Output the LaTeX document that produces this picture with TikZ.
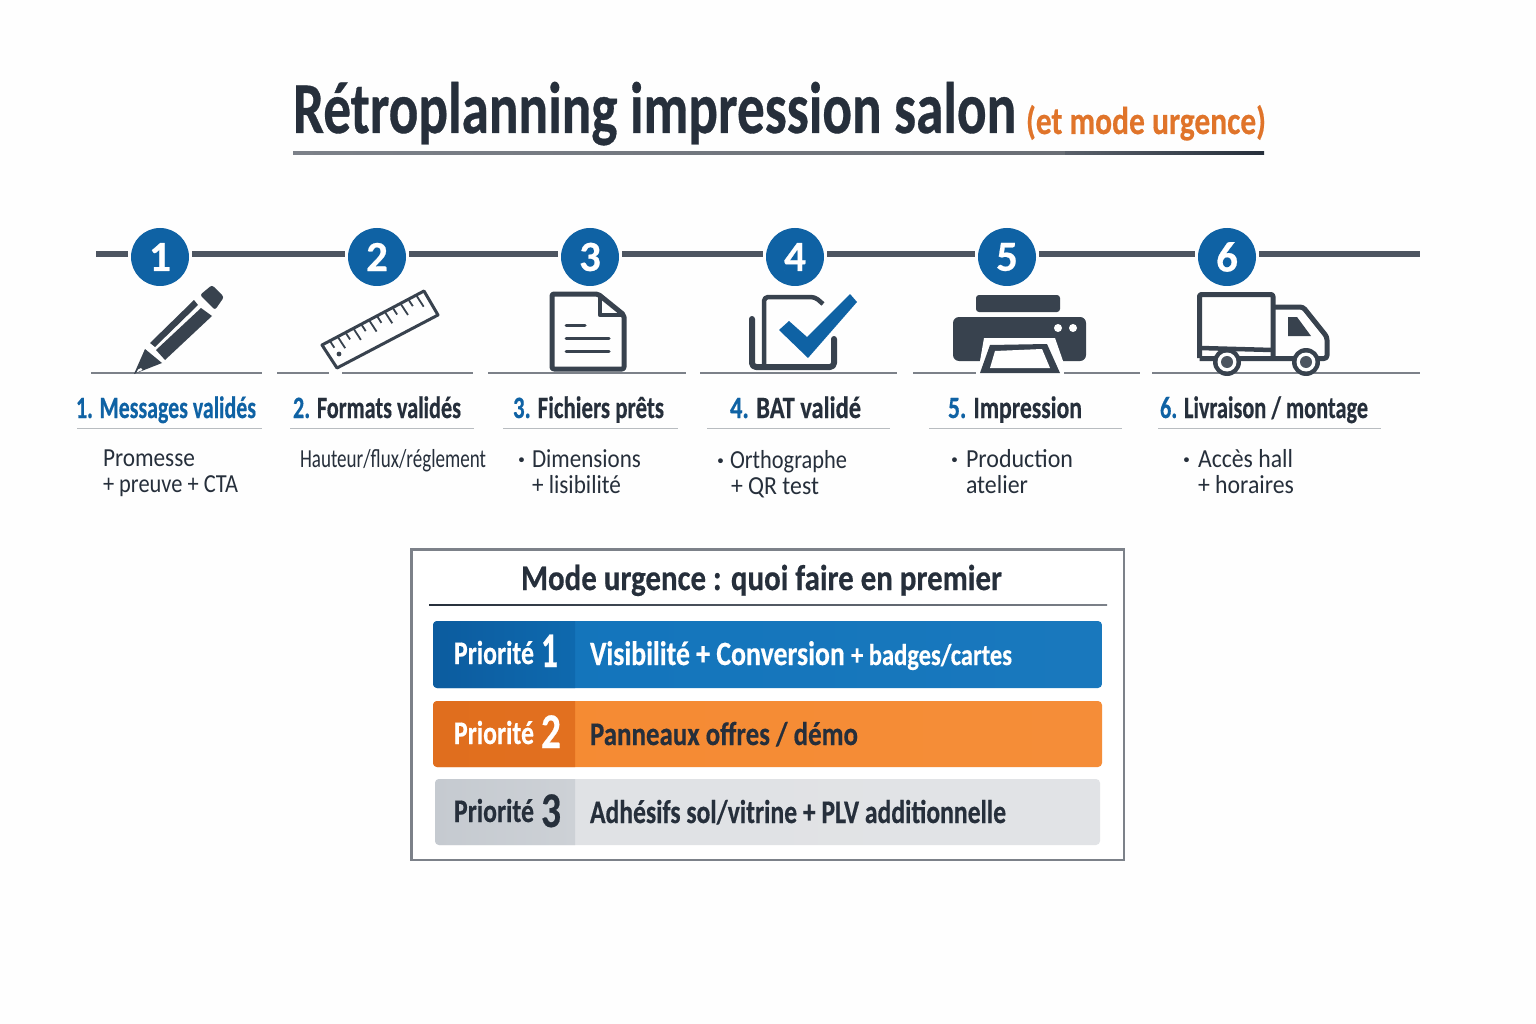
\documentclass[tikz,border=0pt]{standalone}
\usepackage{fontspec}
\usepackage{graphicx}
\usetikzlibrary{calc}
\setmainfont{Carlito}
\newfontfamily\hvy{Carlito}[BoldFeatures={FakeBold=0.5}]
\definecolor{ink}{HTML}{262F3B}
\definecolor{icon}{HTML}{38424E}
\definecolor{tl}{HTML}{4D5561}
\definecolor{blu}{HTML}{0F62A4}
\definecolor{org}{HTML}{E0742A}
\definecolor{grd}{HTML}{7C8189}
\definecolor{hln}{HTML}{B8BCC0}
\definecolor{ba}{HTML}{0C5C9F}\definecolor{bb}{HTML}{0E69AE}\definecolor{bc}{HTML}{1274BB}
\definecolor{oa}{HTML}{E06E1E}\definecolor{ob}{HTML}{E2701F}\definecolor{oc}{HTML}{F58A32}
\definecolor{ga}{HTML}{C5CAD0}\definecolor{gb}{HTML}{CDD1D6}\definecolor{gc}{HTML}{E0E2E5}
\newcommand\fitx[2]{\resizebox{#1pt}{\height}{#2}}
\newcommand\fs[1]{\fontsize{#1}{#1}\selectfont}
\newcommand\pribar[7]{%
  \shade[left color=#7,right color=#7!97!white,rounded corners=4pt] (#1,#3) rectangle (#2,#4);
  \begin{scope}
    \clip[rounded corners=4pt] (#1,#3) rectangle (#2,#4);
    \shade[left color=#5,right color=#6] (#1,#3) rectangle (575,#4);
  \end{scope}}
\tikzset{
  lbl/.style={inner sep=0pt,outer sep=0pt,anchor=base west},
  stepcircle/.style={circle,fill=blu,minimum size=58pt,inner sep=0pt,outer sep=3pt,text=white,font=\hvy\bfseries\fs{43}},
  tline/.style={draw=tl,line width=6pt},
  gline/.style={draw=grd,line width=2pt},
  hline/.style={draw=hln,line width=1.2pt},
  steptitle/.style={lbl,text=ink,font=\hvy\bfseries\fs{31}},
  stepbody/.style={lbl,text=ink,font=\fs{26}},
  pri/.style={lbl,font=\hvy\bfseries\fs{33}},
  ico/.style={draw=icon,line width=4.5pt,line join=round},
  icofill/.style={fill=icon},
}
\begin{document}
\begin{tikzpicture}[x=1pt,y=-1pt]
\useasboundingbox (0,0) rectangle (1536,1024);
\fill[white!99.6!black] (0,0) rectangle (1536,1024);

% title
\node[lbl,text=ink,font=\hvy\bfseries\fs{73}] (title) at (293,133) {\fitx{723}{Rétroplanning impression salon}};
\node[lbl,text=org,font=\hvy\bfseries\fs{39}] (subtitle) at (1026,134) {\fitx{240}{(et mode urgence)}};
\coordinate (ula) at (293,153); \coordinate (ulb) at (1065,153); \coordinate (ulc) at (1264,153);
\shade[left color=grd,right color=grd!85!black] (293,151.5) rectangle (1065,154.5);
\shade[left color=grd!60!ink,right color=ink] (1065,151.5) rectangle (1264,154.5);

% timeline
\node[stepcircle] (c1) at (160,257) {1};
\node[stepcircle] (c2) at (377,257) {2};
\node[stepcircle] (c3) at (590,257) {3};
\node[stepcircle] (c4) at (795,257) {4};
\node[stepcircle] (c5) at (1007,257) {5};
\node[stepcircle] (c6) at (1227,257) {6};
\coordinate (ls) at (96,254); \coordinate (le) at (1420,254);
\draw[tline] (ls) -- (ls -| c1.west);
\draw[tline] (ls -| c1.east) -- (ls -| c2.west);
\draw[tline] (ls -| c2.east) -- (ls -| c3.west);
\draw[tline] (ls -| c3.east) -- (ls -| c4.west);
\draw[tline] (ls -| c4.east) -- (ls -| c5.west);
\draw[tline] (ls -| c5.east) -- (ls -| c6.west);
\draw[tline] (ls -| c6.east) -- (le);

% ground lines
\draw[gline] (91,372.5) -- (262,372.5);
\draw[gline] (277,372.5) -- (329,372.5) (342,372.5) -- (473,372.5);
\draw[gline] (488,372.5) -- (686,372.5);
\draw[gline] (700,372.5) -- (897,372.5);
\draw[gline] (913,372.5) -- (976,372.5) (1063,372.5) -- (1140,372.5);
\draw[gline] (1152,372.5) -- (1420,372.5);

% pencil
\fill[icofill,rounded corners=2.5pt] (212,285) -- (224,297) -- (215,310) -- (200,295) -- cycle;
\fill[icofill] (194,300) -- (198,305) -- (155,347) -- (150,343) -- cycle;
\fill[icofill] (201,308) -- (212,316) -- (165,360) -- (156,350) -- cycle;
\fill[icofill] (145,349) -- (162,363) -- (134,374) -- cycle;
\fill[white] (138,369.5) -- (141,368) -- (142.5,370) -- (136.5,372.5) -- cycle;

% ruler
\draw[icon,line width=3pt,line join=round] (322,345) -- (424,291) -- (438,315) -- (337,368) -- cycle;
\foreach \i in {1,...,12}{
  \pgfmathsetmacro{\t}{\i/13}
  \pgfmathsetmacro{\l}{ifthenelse(mod(\i,2)==0,0.5,0.3)}
  \draw[icon,line width=1.8pt] (322+102*\t,345-54*\t) -- (322+102*\t+15*\l,345-54*\t+23*\l);
}
\fill[icon] (339,354) circle (2.4pt);

% document
\draw[ico,line width=5pt,rounded corners=2pt] (598,294) -- (552,294) -- (552,369) -- (624,369) -- (624,315) -- cycle;
\draw[ico] (600,296) -- (600,315) -- (624,315);
\draw[icon,line width=3pt,line cap=round] (566,325) -- (585,325);
\draw[icon,line width=3pt,line cap=round] (566,338) -- (609,338);
\draw[icon,line width=3pt,line cap=round] (566,351) -- (609,351);

% BAT
\draw[ico,line width=6pt,rounded corners=4pt,line cap=round] (752,319) -- (752,367) -- (834,367) -- (834,339);
\draw[ico,rounded corners=4pt] (764,365) -- (764,297) -- (815,297) -- (823,304);
\fill[white] (775,330) -- (789,317) -- (807,333) -- (850,290) -- (861,302) -- (808,362) -- cycle;
\fill[blu] (779,330) -- (789,321) -- (807,337) -- (850,294) -- (857,302) -- (808,358) -- cycle;

% printer
\fill[icofill,rounded corners=3pt] (976,312) -- (976,295) -- (1060,295) -- (1060,312) -- cycle;
\fill[icofill,rounded corners=6pt] (953,317) rectangle (1086,361);
\fill[white] (1058,328) circle (4pt) (1073,328) circle (4pt);
\fill[white] (984,338) -- (1055,338) -- (1063,361) -- (1064,374) -- (977,374) -- (980,361) -- cycle;
\fill[icon] (990,345) -- (1047,344) -- (1060,373) -- (980,373) -- cycle;
\fill[white] (995,351) -- (1042,349) -- (1050,368) -- (990,368) -- cycle;

% truck
\draw[ico,line width=5pt,rounded corners=2pt] (1199.5,358) -- (1199.5,294.5) -- (1273,294.5) -- (1273,358);
\draw[ico,line width=4.5pt] (1200,348) -- (1272,350);
\draw[ico,line width=5pt,rounded corners=3pt] (1273,307) -- (1303,307) -- (1327,337) -- (1327,358.5) -- (1199.5,358.5);
\fill[icofill] (1288,317) -- (1297,317) -- (1311,336) -- (1288,336) -- cycle;
\fill[icon] (1227,362) circle (14pt) (1306,362) circle (14pt);
\fill[white] (1227,362) circle (9.5pt) (1306,362) circle (9.5pt);
\fill[icon!90!white] (1227,362) circle (6pt) (1306,362) circle (6pt);

% step titles
\node[steptitle] (s1) at (76,418) {\fitx{180}{\color{blu}1. Messages validés}};
\node[steptitle] (s2) at (293,418) {\fitx{168}{{\color{blu}2.} Formats validés}};
\node[steptitle] (s3) at (513,418) {\fitx{151}{{\color{blu}3.} Fichiers prêts}};
\node[steptitle] (s4) at (730,418) {\fitx{131}{{\color{blu}4.} BAT validé}};
\node[steptitle] (s5) at (948,418) {\fitx{134}{{\color{blu}5.} Impression}};
\node[steptitle] (s6) at (1160,418) {\fitx{208}{{\color{blu}6.} Livraison / montage}};

\draw[hline] (77,428.5) -- (262,428.5);
\draw[hline] (290,428.5) -- (474,428.5);
\draw[hline] (503,428.5) -- (678,428.5);
\draw[hline] (707,428.5) -- (890,428.5);
\draw[hline] (929,428.5) -- (1122,428.5);
\draw[hline] (1158,428.5) -- (1381,428.5);

% step bodies
\node[stepbody] (b1a) at (103,466) {\fitx{92}{Promesse}};
\node[stepbody] (b1b) at (103,492) {\fitx{135}{+ preuve + CTA}};
\node[stepbody] (b2a) at (300,467) {\fitx{186}{Hauteur/flux/réglement}};
\node[stepbody] (b3a) at (518,467) {\makebox[14pt][l]{\bfseries·}\fitx{109}{Dimensions}};
\node[stepbody] (b3b) at (532,493) {\fitx{89}{+ lisibilité}};
\node[stepbody] (b4a) at (717,468) {\makebox[13pt][l]{\bfseries·}\fitx{117}{Orthographe}};
\node[stepbody] (b4b) at (731,494) {\fitx{88}{+ QR test}};
\node[stepbody] (b5a) at (951,467) {\makebox[15pt][l]{\bfseries·}\fitx{107}{Production}};
\node[stepbody] (b5b) at (966,493) {\fitx{62}{atelier}};
\node[stepbody] (b6a) at (1183,467) {\makebox[15pt][l]{\bfseries·}\fitx{95}{Accès hall}};
\node[stepbody] (b6b) at (1198,493) {\fitx{96}{+ horaires}};

% urgency panel
\draw[draw=grd,fill=white,line width=2.5pt] (411.5,549.5) rectangle (1124,860);
\node[lbl,text=ink,font=\hvy\bfseries\fs{36}] (ptitle) at (521,590) {\fitx{481}{Mode urgence : quoi faire en premier}};
\shade[left color=ink,right color=grd] (429,604) rectangle (1107,605);

\pribar{433}{1102}{621}{688}{ba}{bb}{bc}
\pribar{433}{1102}{701}{767}{oa}{ob}{oc}
\pribar{435}{1100}{779}{845}{ga}{gb}{gc}

\node[pri,text=white] (p1) at (454,664) {\fitx{80}{Priorité}\hspace{7pt}\raisebox{-3pt}{\fitx{17}{\fs{50}1}}};
\node[pri,text=white] (q1) at (590,665) {\fitx{422}{\fs{34}Visibilité + Conversion \fs{30}+ badges/cartes}};
\node[pri,text=white] (p2) at (454,744) {\fitx{80}{Priorité}\hspace{7pt}\raisebox{-4pt}{\fitx{20}{\fs{50}2}}};
\node[pri,text=ink] (q2) at (590,745) {\fitx{268}{Panneaux offres / démo}};
\node[pri,text=ink] (p3) at (454,822) {\fitx{80}{Priorité}\hspace{7pt}\raisebox{-5pt}{\fitx{20}{\fs{50}3}}};
\node[pri,text=ink] (q3) at (590,823) {\fitx{416}{Adhésifs sol/vitrine + PLV additionnelle}};
\end{tikzpicture}
\end{document}
